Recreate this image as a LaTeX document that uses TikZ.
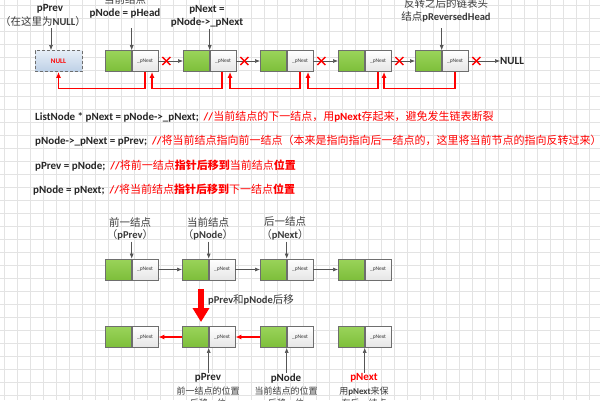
\documentclass[tikz,border=0pt]{standalone}
\usepackage{fontspec}
\setmainfont{Carlito}
\newfontfamily\cjk{Noto Sans CJK SC}
\usetikzlibrary{arrows.meta,calc}
\newcommand\zh[1]{{\cjk #1}}
\definecolor{gridc}{HTML}{E3E3E3}
\definecolor{boxgray}{HTML}{6E6E6E}
\definecolor{arrgray}{HTML}{555555}
\definecolor{gtop}{HTML}{9AD35A}
\definecolor{gbot}{HTML}{7DBE3A}
\definecolor{txtgray}{HTML}{3A3A3A}
\definecolor{nulltop}{HTML}{E6EEF7}
\definecolor{nullbot}{HTML}{BDD0E6}
\tikzset{
  gpart/.style={draw=boxgray, line width=0.7pt, top color=gtop, bottom color=gbot, minimum width=26pt, minimum height=21pt, inner sep=0pt, anchor=west},
  wpart/.style={draw=boxgray, line width=0.7pt, top color=white, bottom color=black!10, minimum width=26pt, minimum height=21pt, inner sep=0pt, anchor=west, font=\fontsize{5.5}{6}\selectfont, text=txtgray},
  nullbox/.style={draw=boxgray, dashed, dash pattern=on 3pt off 2pt, line width=0.8pt, top color=nulltop, bottom color=nullbot, minimum width=47pt, minimum height=21pt, inner sep=0pt, font=\bfseries\fontsize{7}{8}\selectfont, text=red},
  garrow/.style={-{Latex[length=5pt,width=4pt]}, draw=arrgray, line width=0.6pt},
  rarrow/.style={-{Latex[length=6pt,width=5pt]}, draw=red, line width=1.3pt},
  xmark/.style={draw=red, line width=1.3pt},
  lbl/.style={inner sep=0pt, font=\fontsize{10.5}{12}\selectfont, text=txtgray},
  slbl/.style={inner sep=0pt, font=\fontsize{9}{11}\selectfont, text=txtgray},
  blbl/.style={inner sep=0pt, font=\bfseries\fontsize{11}{12}\selectfont, text=black!85},
  code/.style={inner sep=0pt, anchor=west, font=\fontsize{11}{13}\selectfont, text=black!85},
}
\newcommand\mklnode[3]{%
  \node[gpart] (#1g) at (#2,#3) {};
  \node[wpart] (#1w) at (#1g.east) {\_pNext};
}
\newcommand\xat[1]{%
  \draw[xmark] ($(#1)+(-4,-4)$) -- ($(#1)+(4,4)$);
  \draw[xmark] ($(#1)+(-4,4)$) -- ($(#1)+(4,-4)$);
}
\begin{document}
\begin{tikzpicture}[x=1pt,y=-1pt]
\useasboundingbox (0,0) rectangle (600,400);
\fill[white] (0,0) rectangle (600,400);
\foreach \i in {0,...,46} \draw[gridc, line width=0.6pt] (4.7+13*\i,0) -- (4.7+13*\i,400);
\foreach \j in {0,...,30} \draw[gridc, line width=0.6pt] (0,5+13*\j) -- (600,5+13*\j);

% ---------- top row ----------
\node[nullbox] (null) at (58.5,61) {NULL};
\mklnode{n1}{105}{61}
\mklnode{n2}{183}{61}
\mklnode{n3}{260}{61}
\mklnode{n4}{338}{61}
\mklnode{n5}{415}{61}
\node[blbl, anchor=west] (endnull) at (500,61) {NULL};

\draw[garrow] (n1w.east) -- (n2g.west);
\draw[garrow] (n2w.east) -- (n3g.west);
\draw[garrow] (n3w.east) -- (n4g.west);
\draw[garrow] (n4w.east) -- (n5g.west);
\draw[garrow] (n5w.east) -- (endnull.west);
\coordinate (x1) at ($(n1w.east)+(8,0)$);
\coordinate (x2) at ($(n2w.east)+(8,0)$);
\coordinate (x3) at ($(n3w.east)+(8,0)$);
\coordinate (x4) at ($(n4w.east)+(8,0)$);
\coordinate (x5) at ($(n5w.east)+(8,0)$);
\xat{x1}\xat{x2}\xat{x3}\xat{x4}\xat{x5}

\draw[rarrow] (n1w.south) |- ($(null.south)+(0,16.5)$) -- (null.south);
\draw[rarrow] ([xshift=-1pt]n2w.south) |- ($(n1w.south)+(7,16.5)$) -- ($(n1w.south)+(7,0)$);
\draw[rarrow] (n3w.south) |- ($(n2w.south)+(7,16.5)$) -- ($(n2w.south)+(7,0)$);
\draw[rarrow] (n4w.south) |- ($(n3w.south)+(8,16.5)$) -- ($(n3w.south)+(8,0)$);
\draw[rarrow] (n5w.south) |- ($(n4w.south)+(6,16.5)$) -- ($(n4w.south)+(6,0)$);

% top labels
\node[blbl] (lprev) at (50,9) {pPrev};
\node[lbl] (lprev2) at (43,22) {\zh{（在这里为}\textbf{NULL}\zh{）}};
\draw[garrow] (51,28) -- (51,50);
\node[lbl] (lnode0) at (125,-1) {\zh{当前结点}};
\node[blbl] (lnode) at (125,14) {pNode = pHead};
\draw[garrow] ([yshift=22pt]n1g.north east) -- (n1g.north east);
\node[lbl] (lnext0) at (207,-5) {\zh{下一结点}};
\node[blbl] (lnext) at (207,10) {pNext =};
\node[blbl] (lnext2) at (207,23) {pNode->\_pNext};
\draw[garrow] ([yshift=21pt]n2g.north east) -- (n2g.north east);
\node[lbl] (lrev0) at (446,3) {\zh{反转之后的链表头}};
\node[lbl] (lrev) at (446,17) {\zh{结点}\textbf{pReversedHead}};
\draw[garrow] ([yshift=22pt]n5g.north east) -- (n5g.north east);

% ---------- code lines ----------
\node[code] (c1) at (35,117) {\textbf{ListNode * pNext = pNode->\_pNext;}\ \ {\color{red}\textbf{//}\zh{当前结点的下一结点，用}\textbf{pNext}\zh{存起来，避免发生链表断裂}}};
\node[code] (c2) at (35,141) {\textbf{pNode->\_pNext = pPrev;}\ \ {\color{red}\textbf{//}\zh{将当前结点指向前一结点（本来是指向指向后一结点的，这里将当前节点的指向反转过来）}}};
\node[code] (c3) at (35,166) {\textbf{pPrev = pNode;}\ \ {\color{red}\textbf{//}\zh{将前一结点}\textbf{\zh{指针后移到}}\zh{当前结点}\textbf{\zh{位置}}}};
\node[code] (c4) at (33,190) {\textbf{pNode = pNext;}\ \ {\color{red}\textbf{//}\zh{将当前结点}\textbf{\zh{指针后移到}}\zh{下一结点}\textbf{\zh{位置}}}};

% ---------- middle row ----------
\mklnode{m1}{105}{269.5}
\mklnode{m2}{182}{269.5}
\mklnode{m3}{260}{269.5}
\mklnode{m4}{338}{269.5}
\draw[garrow] (m1w.east) -- (m2g.west);
\draw[garrow] (m2w.east) -- (m3g.west);
\draw[garrow] (m3w.east) -- (m4g.west);
\node[lbl] (ma1) at (130,222) {\zh{前一结点}};
\node[lbl] (ma2) at (130,235) {\zh{（}\textbf{pPrev}\zh{）}};
\node[lbl] (mb1) at (208,222) {\zh{当前结点}};
\node[lbl] (mb2) at (208,235) {\zh{（}\textbf{pNode}\zh{）}};
\node[lbl] (mc1) at (285,222) {\zh{后一结点}};
\node[lbl] (mc2) at (285,235) {\zh{（}\textbf{pNext}\zh{）}};
\draw[garrow] ([yshift=17pt]m1g.north east) -- (m1g.north east);
\draw[garrow] ([yshift=17pt]m2g.north east) -- (m2g.north east);
\draw[garrow] ([yshift=17pt]m3g.north east) -- (m3g.north east);

% ---------- bottom row ----------
\draw[red, line width=6pt, -{Triangle[length=14pt,width=16pt]}] (201,289) -- (201,322);
\node[lbl, anchor=west] (move) at (208,300) {\textbf{pPrev}\zh{和}\textbf{pNode}\zh{后移}};
\mklnode{b1}{105}{337}
\mklnode{b2}{182}{337}
\mklnode{b3}{260}{337}
\mklnode{b4}{338}{337}
\draw[rarrow] (b2g.west) -- (b1w.east);
\draw[rarrow] (b3g.west) -- (b2w.east);
\draw[garrow] ([yshift=-25pt]b2g.south east) -- (b2g.south east);
\draw[garrow] ([yshift=-25pt]b3g.south east) -- (b3g.south east);
\draw[garrow] ([yshift=-25pt]b4g.south east) -- (b4g.south east);
\node[blbl] (pa1) at (208,378) {pPrev};
\node[slbl] (pa2) at (208,391) {\zh{前一结点的位置}};
\node[slbl] (pa3) at (208,403) {\zh{后移一位}};
\node[blbl] (pb1) at (286,378) {pNode};
\node[slbl] (pb2) at (286,391) {\zh{当前结点的位置}};
\node[slbl] (pb3) at (286,403) {\zh{后移一位}};
\node[blbl, text=red] (pc1) at (364,378) {pNext};
\node[slbl] (pc2) at (364,391) {\zh{用}\textbf{pNext}\zh{来保}};
\node[slbl] (pc3) at (364,403) {\zh{存后一结点}};
\end{tikzpicture}
\end{document}
